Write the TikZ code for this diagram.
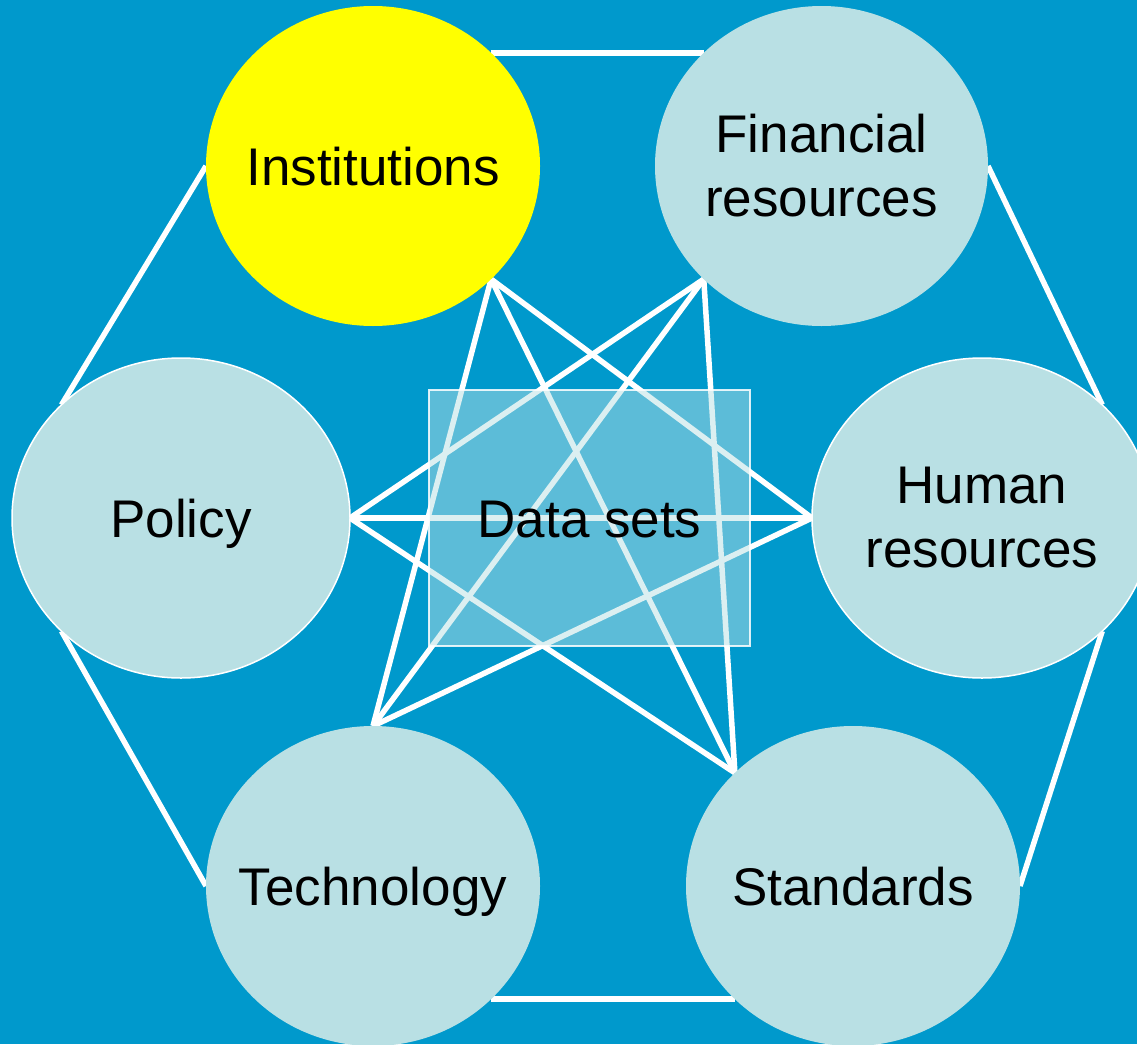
\documentclass[tikz,border=0pt]{standalone}
\usepackage{fontspec}
\setmainfont{Liberation Sans}
\usetikzlibrary{shapes.geometric}
\definecolor{bg}{RGB}{0,153,204}
\definecolor{lb}{RGB}{185,224,228}
\definecolor{yl}{RGB}{255,255,0}
\pgfdeclarelayer{back}
\pgfsetlayers{back,main}
\begin{document}
\begin{tikzpicture}[x=1pt,y=-1pt,
  bubble/.style={ellipse, fill=lb, inner xsep=-60pt, inner ysep=0pt, outer sep=0pt, align=center,
    minimum width=334pt, minimum height=320pt, font=\fontsize{53}{64}\selectfont},
  oneline/.style={text height=38pt, text depth=0pt},
  rimmed/.style={draw=white, line width=1.5pt},
  link/.style={draw=white, line width=5.5pt},
  datebox/.style={rectangle, fill=lb, fill opacity=0.5, text opacity=1,
    draw=white, draw opacity=0.85, line width=1.5pt, inner sep=0pt, outer sep=0pt,
    minimum width=321pt, minimum height=256pt, text height=38pt, text depth=0pt,
    font=\fontsize{53}{64}\selectfont}
]
\useasboundingbox (0,0) rectangle (1137,1044);
\clip (0,0) rectangle (1137,1044);
\begin{pgfonlayer}{back}
  \fill[bg] (0,0) rectangle (1137,1044);
\end{pgfonlayer}

\node[bubble, oneline, fill=yl] (inst) at (373,166) {Institutions};
\node[bubble, minimum width=333pt] (fin) at (821.5,166) {Financial\\resources};
\node[bubble, oneline, rimmed, minimum width=338pt] (pol) at (181,518) {Policy};
\node[bubble, rimmed, minimum width=340pt] (hum) at (982,518) {Human\\resources};
\node[bubble, oneline] (tech) at (373,886) {Technology};
\node[bubble, oneline] (std) at (853,886) {Standards};

\begin{pgfonlayer}{back}
  % outer ring
  \draw[link] (inst.north east) -- (fin.north west);
  \draw[link] (inst.west) -- (pol.north west);
  \draw[link] (fin.east) -- (hum.north east);
  \draw[link] (pol.south west) -- (tech.west);
  \draw[link] (hum.south east) -- (std.east);
  \draw[link] (tech.south east) -- (std.south west);
  % inner star
  \draw[link] (inst.south east) -- (hum.west);
  \draw[link] (inst.south east) -- (std.north west);
  \draw[link] (inst.south east) -- (tech.north);
  \draw[link] (fin.south west) -- (pol.east);
  \draw[link] (fin.south west) -- (tech.north);
  \draw[link] (fin.south west) -- (std.north west);
  \draw[link] (pol.east) -- (hum.west);
  \draw[link] (pol.east) -- (std.north west);
  \draw[link] (tech.north) -- (hum.west);
\end{pgfonlayer}

\node[datebox] (data) at (589.5,518) {Data sets};
\end{tikzpicture}
\end{document}
